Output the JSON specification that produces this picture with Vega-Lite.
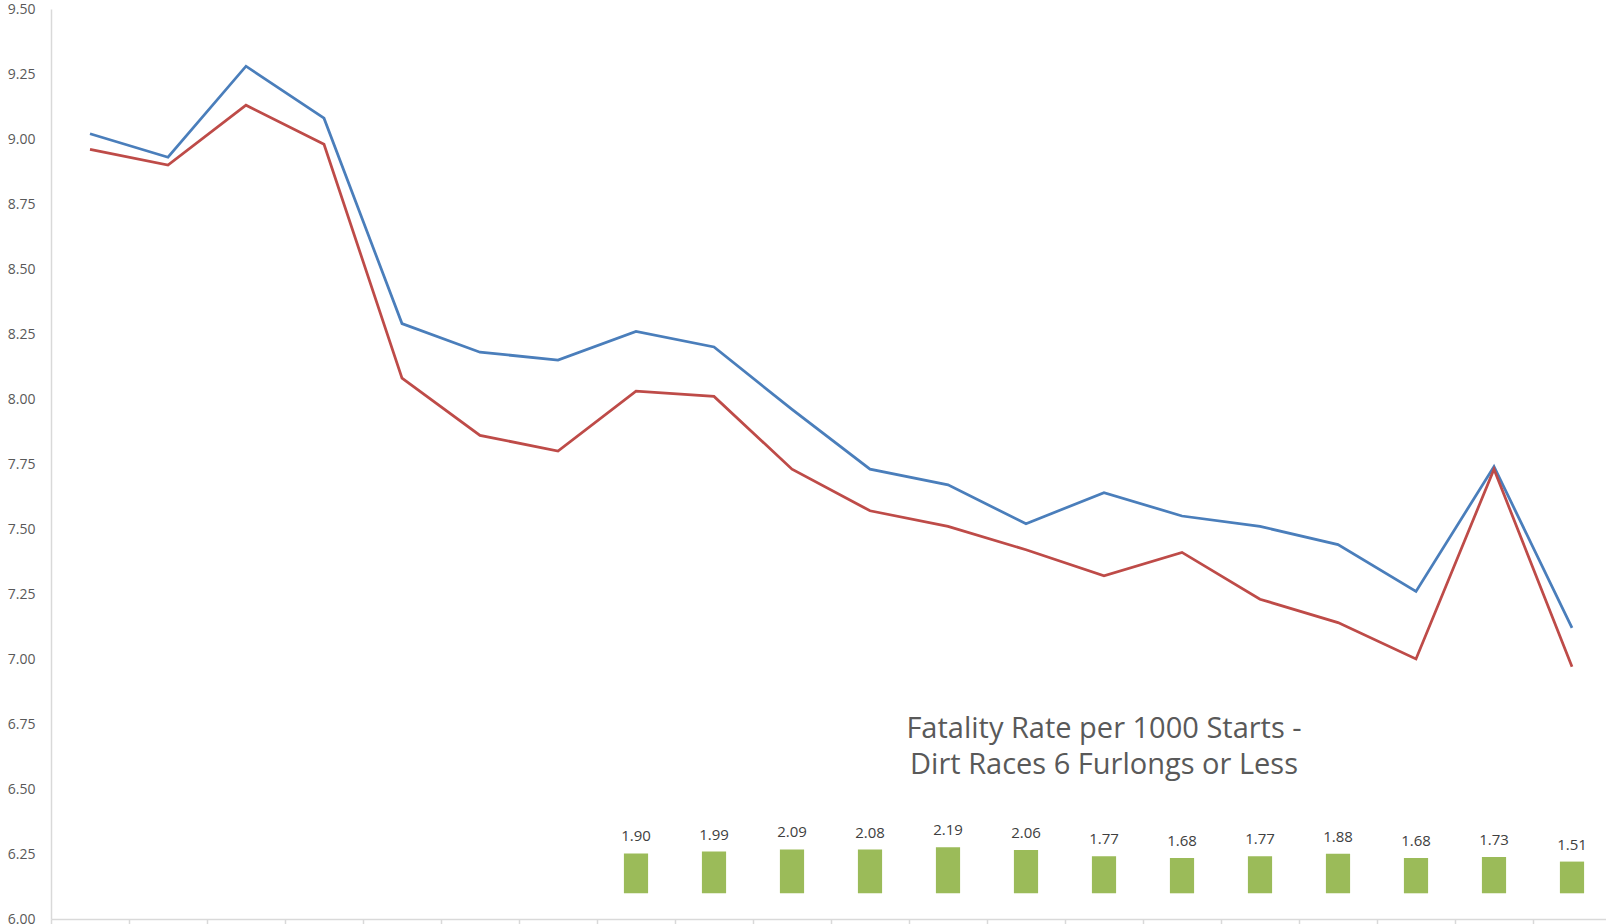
{
  "$schema": "https://vega.github.io/schema/vega-lite/v6.json",
  "autosize": {"type": "none"},
  "padding": {"left": 51, "top": 9, "right": 0, "bottom": 5},
  "width": 1555,
  "height": 910,
  "background": "white",
  "config": {"view": {"stroke": null}, "font": "Open Sans"},
  "datasets": {
    "lines": [
      {"cat": 1, "series": "Series1", "value": 9.02},
      {"cat": 2, "series": "Series1", "value": 8.93},
      {"cat": 3, "series": "Series1", "value": 9.28},
      {"cat": 4, "series": "Series1", "value": 9.08},
      {"cat": 5, "series": "Series1", "value": 8.29},
      {"cat": 6, "series": "Series1", "value": 8.18},
      {"cat": 7, "series": "Series1", "value": 8.15},
      {"cat": 8, "series": "Series1", "value": 8.26},
      {"cat": 9, "series": "Series1", "value": 8.20},
      {"cat": 10, "series": "Series1", "value": 7.96},
      {"cat": 11, "series": "Series1", "value": 7.73},
      {"cat": 12, "series": "Series1", "value": 7.67},
      {"cat": 13, "series": "Series1", "value": 7.52},
      {"cat": 14, "series": "Series1", "value": 7.64},
      {"cat": 15, "series": "Series1", "value": 7.55},
      {"cat": 16, "series": "Series1", "value": 7.51},
      {"cat": 17, "series": "Series1", "value": 7.44},
      {"cat": 18, "series": "Series1", "value": 7.26},
      {"cat": 19, "series": "Series1", "value": 7.74},
      {"cat": 20, "series": "Series1", "value": 7.12},
      {"cat": 1, "series": "Series2", "value": 8.96},
      {"cat": 2, "series": "Series2", "value": 8.90},
      {"cat": 3, "series": "Series2", "value": 9.13},
      {"cat": 4, "series": "Series2", "value": 8.98},
      {"cat": 5, "series": "Series2", "value": 8.08},
      {"cat": 6, "series": "Series2", "value": 7.86},
      {"cat": 7, "series": "Series2", "value": 7.80},
      {"cat": 8, "series": "Series2", "value": 8.03},
      {"cat": 9, "series": "Series2", "value": 8.01},
      {"cat": 10, "series": "Series2", "value": 7.73},
      {"cat": 11, "series": "Series2", "value": 7.57},
      {"cat": 12, "series": "Series2", "value": 7.51},
      {"cat": 13, "series": "Series2", "value": 7.42},
      {"cat": 14, "series": "Series2", "value": 7.32},
      {"cat": 15, "series": "Series2", "value": 7.41},
      {"cat": 16, "series": "Series2", "value": 7.23},
      {"cat": 17, "series": "Series2", "value": 7.14},
      {"cat": 18, "series": "Series2", "value": 7.00},
      {"cat": 19, "series": "Series2", "value": 7.73},
      {"cat": 20, "series": "Series2", "value": 6.97}
    ],
    "bars": [
      {"cat": 8, "value": 1.90},
      {"cat": 9, "value": 1.99},
      {"cat": 10, "value": 2.09},
      {"cat": 11, "value": 2.08},
      {"cat": 12, "value": 2.19},
      {"cat": 13, "value": 2.06},
      {"cat": 14, "value": 1.77},
      {"cat": 15, "value": 1.68},
      {"cat": 16, "value": 1.77},
      {"cat": 17, "value": 1.88},
      {"cat": 18, "value": 1.68},
      {"cat": 19, "value": 1.73},
      {"cat": 20, "value": 1.51}
    ]
  },
  "encoding": {
    "x": {
      "field": "cat",
      "type": "ordinal",
      "scale": {"domain": [1,2,3,4,5,6,7,8,9,10,11,12,13,14,15,16,17,18,19,20], "range": [0, 1560], "paddingInner": 0, "paddingOuter": 0},
      "axis": {
        "title": null,
        "labels": false,
        "ticks": true,
        "tickBand": "extent",
        "tickSize": 6,
        "tickColor": "#d9d9d9",
        "tickWidth": 1.5,
        "domainColor": "#d9d9d9",
        "domainWidth": 1.5,
        "grid": false
      }
    }
  },
  "layer": [
    {
      "encoding": {
        "y": {
          "type": "quantitative",
          "scale": {"domain": [6, 9.5], "nice": false, "zero": false},
          "axis": {
            "title": null,
            "grid": false,
            "ticks": false,
            "domainColor": "#d9d9d9",
            "domainWidth": 1.5,
            "labelFontSize": 14,
            "labelColor": "#595959",
            "labelPadding": 16,
            "values": [6, 6.25, 6.5, 6.75, 7, 7.25, 7.5, 7.75, 8, 8.25, 8.5, 8.75, 9, 9.25, 9.5],
            "format": ".2f"
          }
        }
      },
      "layer": [
        {
          "data": {"name": "lines"},
          "mark": {"type": "line", "strokeWidth": 2.75},
          "encoding": {
            "y": {"field": "value", "type": "quantitative"},
            "color": {
              "field": "series",
              "type": "nominal",
              "scale": {"domain": ["Series1", "Series2"], "range": ["#4A7EBB", "#BE4B48"]},
              "legend": null
            }
          }
        },
        {
          "data": {"values": [{"cat": 14, "yv": 6.696}]},
          "mark": {
            "type": "text",
            "text": ["Fatality Rate per 1000 Starts -", "Dirt Races 6 Furlongs or Less"],
            "fontSize": 29,
            "lineHeight": 36,
            "align": "center",
            "baseline": "alphabetic",
            "color": "#595959"
          },
          "encoding": {
            "y": {"field": "yv", "type": "quantitative"}
          }
        }
      ]
    },
    {
      "data": {"name": "bars"},
      "encoding": {
        "y": {
          "field": "value",
          "type": "quantitative",
          "scale": {"domain": [-1.224, 42.11], "nice": false, "zero": false},
          "axis": null
        }
      },
      "layer": [
        {
          "mark": {"type": "bar", "width": {"band": 0.31}, "color": "#9BBB59"}
        },
        {
          "mark": {"type": "text", "dy": -12, "baseline": "alphabetic", "align": "center", "fontSize": 15, "color": "#404040"},
          "encoding": {"text": {"field": "value", "type": "quantitative", "format": ".2f"}}
        }
      ]
    }
  ],
  "resolve": {"scale": {"y": "independent"}}
}
